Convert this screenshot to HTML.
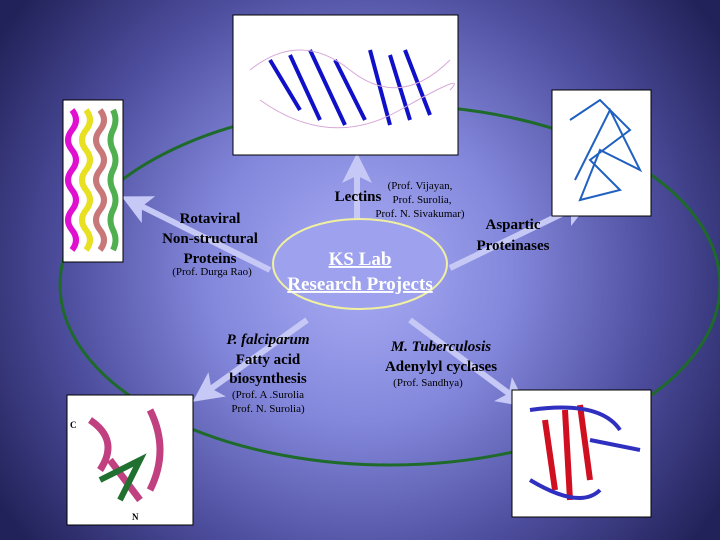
<!DOCTYPE html>
<html><head><style>
html,body{margin:0;padding:0;}
body{width:720px;height:540px;overflow:hidden;background:#2c2c6a;}
svg{display:block;}
text{font-family:"Liberation Serif",serif;}
</style></head><body>
<svg width="720" height="540" viewBox="0 0 720 540" xmlns="http://www.w3.org/2000/svg">
<defs>
<radialGradient id="bg" cx="360" cy="270" r="430" gradientUnits="userSpaceOnUse">
<stop offset="0" stop-color="#a8acf4"/>
<stop offset="0.35" stop-color="#8488dc"/>
<stop offset="0.7" stop-color="#4c4c9c"/>
<stop offset="1" stop-color="#22225a"/>
</radialGradient>
<marker id="ah" markerWidth="5" markerHeight="5" refX="2.5" refY="2.5" orient="auto" markerUnits="strokeWidth">
<path d="M0,0 L5,2.5 L0,5 L1.2,2.5 Z" fill="#c6c8f6"/>
</marker>
</defs>
<rect width="720" height="540" fill="url(#bg)"/>
<ellipse cx="390" cy="285" rx="330" ry="180" fill="none" stroke="#1e6a2a" stroke-width="3"/>
<g stroke="#c6c8f6" stroke-width="6" fill="none" marker-end="url(#ah)">
<line x1="357" y1="232" x2="357" y2="168"/>
<line x1="270" y1="270" x2="135" y2="203"/>
<line x1="450" y1="268" x2="578" y2="206"/>
<line x1="307" y1="320" x2="205" y2="393"/>
<line x1="410" y1="320" x2="515" y2="398"/>
</g>
<ellipse cx="360" cy="264" rx="87" ry="45" fill="#9ea2ee" stroke="#f0f0a0" stroke-width="2"/>
<text x="360" y="265" text-anchor="middle" font-size="19" font-weight="bold" fill="#fff" text-decoration="underline">KS Lab</text>
<text x="360" y="290" text-anchor="middle" font-size="19" font-weight="bold" fill="#fff" text-decoration="underline">Research Projects</text>
<g font-size="15" font-weight="bold" fill="#000" text-anchor="middle">
<text x="358" y="201">Lectins</text>
<text x="210" y="223">Rotaviral</text>
<text x="210" y="243">Non-structural</text>
<text x="210" y="263">Proteins</text>
<text x="513" y="229">Aspartic</text>
<text x="513" y="250">Proteinases</text>
<text x="268" y="344" font-style="italic">P. falciparum</text>
<text x="268" y="364">Fatty acid</text>
<text x="268" y="383">biosynthesis</text>
<text x="441" y="351" font-style="italic">M. Tuberculosis</text>
<text x="441" y="371">Adenylyl cyclases</text>
</g>
<g font-size="11" fill="#000" text-anchor="middle">
<text x="420" y="189">(Prof. Vijayan,</text>
<text x="422" y="203">Prof. Surolia,</text>
<text x="420" y="217">Prof. N. Sivakumar)</text>
<text x="212" y="275">(Prof. Durga Rao)</text>
<text x="268" y="398">(Prof. A .Surolia</text>
<text x="268" y="412">Prof. N. Surolia)</text>
<text x="428" y="386">(Prof. Sandhya)</text>
</g>
<rect x="233" y="15" width="225" height="140" fill="#fff" stroke="#000"/>
<g fill="none" stroke="#1010c8" stroke-width="4">
<path d="M270,60 L300,110 M290,55 L320,120 M310,50 L345,125 M335,60 L365,120 M370,50 L390,125 M390,55 L410,120 M405,50 L430,115"/>
</g>
<g fill="none" stroke="#d8a8d8" stroke-width="1"><path d="M250,70 Q300,30 350,70 T450,60 M260,100 Q330,150 400,110 T450,90"/></g>
<rect x="63" y="100" width="60" height="162" fill="#fff" stroke="#000"/>
<g stroke-width="6" fill="none">
<path d="M72,110 Q80,120 72,130 T72,150 T72,170 T72,190 T72,210 T72,230 T72,250" stroke="#e010d0"/>
<path d="M86,110 Q94,120 86,130 T86,150 T86,170 T86,190 T86,210 T86,230 T86,250" stroke="#e8e020"/>
<path d="M100,110 Q108,120 100,130 T100,150 T100,170 T100,190 T100,210 T100,230 T100,250" stroke="#c87878"/>
<path d="M113,110 Q118,120 113,130 T113,150 T113,170 T113,190 T113,210 T113,230 T113,250" stroke="#50b050"/>
</g>
<rect x="552" y="90" width="99" height="126" fill="#fff" stroke="#000"/>
<path d="M570,120 L600,100 L630,130 L590,160 L620,190 L580,200 L600,150 L640,170 L610,110 L575,180" fill="none" stroke="#2060c0" stroke-width="2"/>
<rect x="67" y="395" width="126" height="130" fill="#fff" stroke="#000"/>
<path d="M90,420 Q120,440 100,470 M150,410 Q170,450 150,490 M110,460 L140,500" fill="none" stroke="#c04080" stroke-width="7"/>
<path d="M100,480 L140,460 L120,500" fill="none" stroke="#207030" stroke-width="6"/>
<text x="70" y="428" font-size="9" font-weight="bold">C</text>
<text x="132" y="520" font-size="9" font-weight="bold">N</text>
<rect x="512" y="390" width="139" height="127" fill="#fff" stroke="#000"/>
<path d="M545,420 L555,490 M565,410 L570,500 M580,405 L590,480" fill="none" stroke="#d01020" stroke-width="6"/>
<path d="M530,410 Q600,400 620,430 M590,440 L640,450 M530,480 Q580,510 600,490" fill="none" stroke="#3030c0" stroke-width="4"/>
</svg>
</body></html>
